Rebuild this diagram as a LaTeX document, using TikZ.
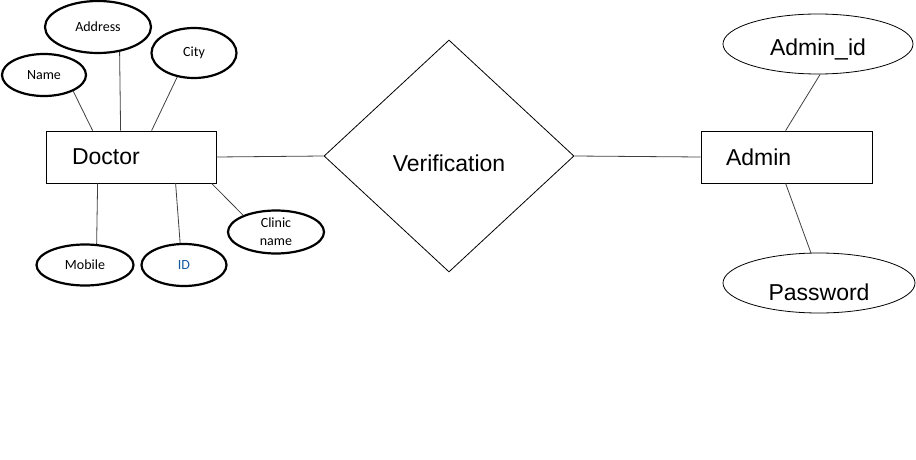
\documentclass[tikz,border=0pt]{standalone}
\usepackage{fontspec}
\setmainfont{Liberation Sans}
\newfontfamily\calibri{Carlito}
\usetikzlibrary{shapes.geometric}
\definecolor{idblue}{RGB}{20,90,160}
\tikzset{
  entity/.style={draw, line width=0.8pt, minimum height=52pt, inner ysep=0pt,
    align=left, font=\fontsize{23}{26}\selectfont},
  attr/.style={ellipse, draw, line width=2.2pt, inner sep=0pt, align=center,
    font=\calibri\fontsize{14}{18}\selectfont},
  bigattr/.style={ellipse, draw, line width=0.8pt, inner sep=0pt, text depth=0pt,
    font=\fontsize{23}{26}\selectfont},
  rel/.style={diamond, draw, line width=0.8pt, inner sep=0pt,
    minimum width=250pt, minimum height=232pt, text height=30pt, text depth=0pt,
    font=\fontsize{23}{26}\selectfont},
  link/.style={line width=0.8pt, draw=black!75}
}

\begin{document}
\begin{tikzpicture}[x=1pt,y=-1pt]
                \useasboundingbox (0,0) rectangle (916,460);
                
                % Entities and relation
                \node[entity, text width=118pt, inner xsep=26pt] (doctor) at (131,157) {Doctor};
                \node[entity, text width=121pt, inner xsep=25pt] (admin) at (786.5,157) {Admin};
                \node[rel] (verif) at (449,156) {Verification};
                
                % Doctor attributes
                \node[attr, minimum width=106pt, minimum height=52pt] (address) at (98,27) {Address};
                \node[attr, minimum width=84pt, minimum height=42pt] (name) at (44,75) {Name};
                \node[attr, minimum width=85pt, minimum height=50pt] (city) at (194,53) {City};
                \node[attr, minimum width=97pt, minimum height=41pt] (mobile) at (85,265) {Mobile};
                \node[attr, minimum width=85pt, minimum height=42pt, text=idblue] (id) at (184,265) {ID};
                \node[attr, minimum width=96pt, minimum height=43pt] (clinic) at (276,232) {Clinic\\name};
                
                % Admin attributes
                \node[bigattr, minimum width=190pt, minimum height=60pt, text height=24pt] (adminid) at (818,44) {Admin\_id};
                \node[bigattr, minimum width=192pt, minimum height=60pt, text height=34pt] (password) at (819,283) {Password};
                
                % Links
                \draw[link] (name.-29) -- ([xshift=47pt]doctor.north west);
                \draw[link] (address.-49) -- ([xshift=75pt]doctor.north west);
                \draw[link] (city.235) -- ([xshift=106pt]doctor.north west);
                \draw[link] (mobile.61) -- ([xshift=52pt]doctor.south west);
                \draw[link] (id.100) -- ([xshift=130pt]doctor.south west);
                \draw[link] (clinic.153) -- ([xshift=166pt]doctor.south west);
                
                \draw[link] (doctor.east) -- (verif.west);
                \draw[link] (verif.east) -- (admin.west);
                
                \draw[link] (adminid.-86) -- ([xshift=85pt]admin.north west);
                \draw[link] (password.105) -- ([xshift=85pt]admin.south west);
\end{tikzpicture}
\end{document}
